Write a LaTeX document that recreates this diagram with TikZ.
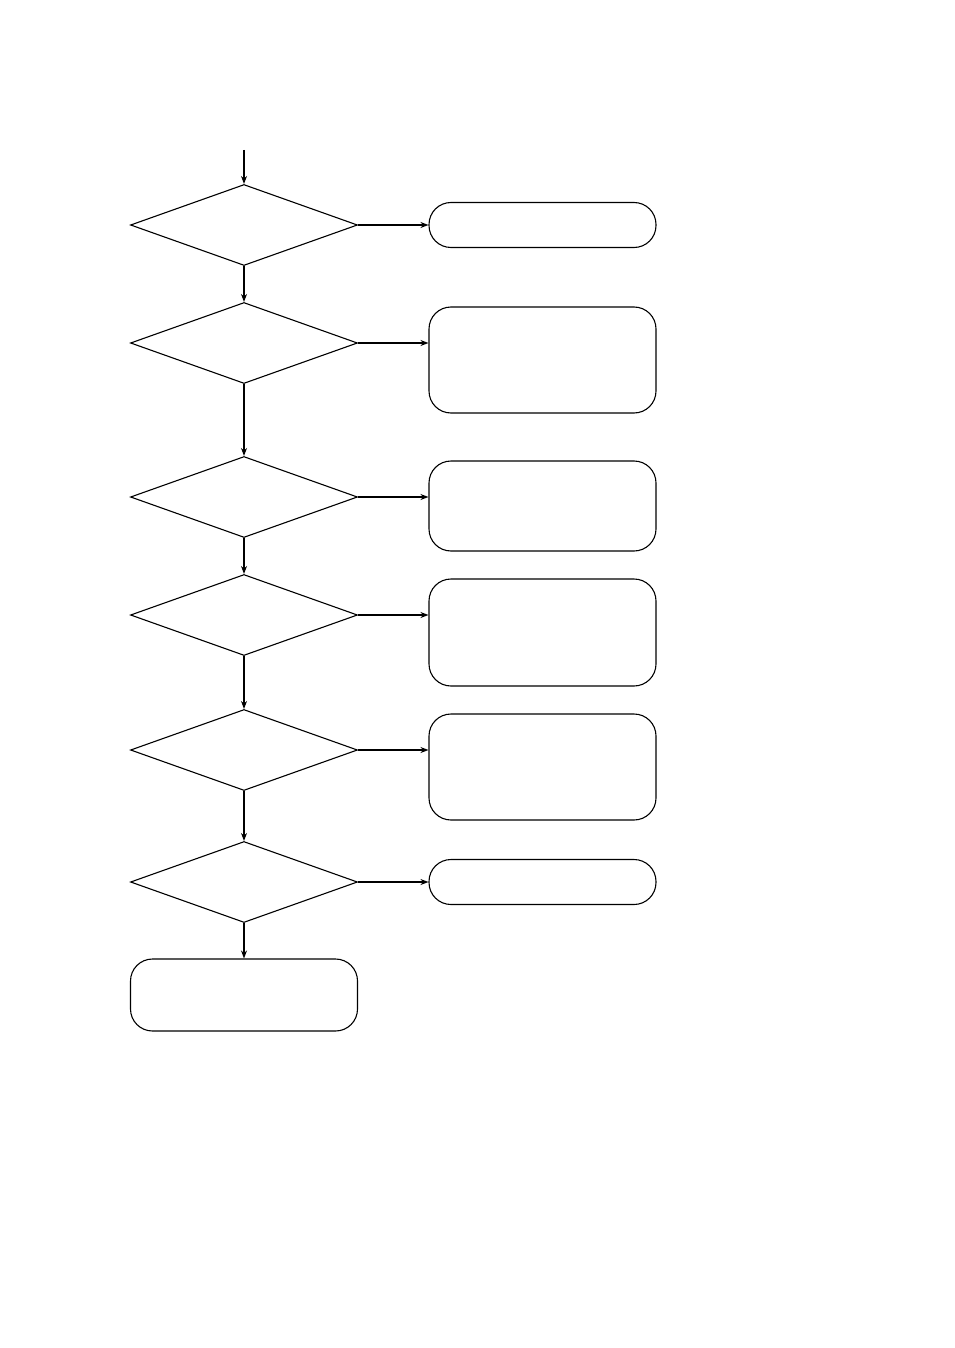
\documentclass[tikz,border=0pt]{standalone}
\usetikzlibrary{shapes.geometric,arrows.meta}
\begin{document}
\begin{tikzpicture}[x=1pt,y=-1pt,line width=1.1pt,
  dec/.style={draw,diamond,minimum width=227pt,minimum height=81pt,inner sep=0pt},
  rbox/.style={draw,rounded corners=22pt,minimum width=227pt,inner sep=0pt},
  arr/.style={-{Stealth[length=8pt,width=6pt]}}]
\useasboundingbox (0,0) rectangle (954,1348);
\coordinate (start) at (244,150);
\node[dec] (d1) at (244,225) {};
\node[dec] (d2) at (244,343) {};
\node[dec] (d3) at (244,497) {};
\node[dec] (d4) at (244,615) {};
\node[dec] (d5) at (244,750) {};
\node[dec] (d6) at (244,882) {};
\node[rbox,minimum height=45pt] (b1) at (542.5,225) {};
\node[rbox,minimum height=106pt] (b2) at (542.5,360) {};
\node[rbox,minimum height=90pt] (b3) at (542.5,506) {};
\node[rbox,minimum height=107pt] (b4) at (542.5,632.5) {};
\node[rbox,minimum height=106pt] (b5) at (542.5,767) {};
\node[rbox,minimum height=45pt] (b6) at (542.5,882) {};
\node[rbox,minimum height=72pt] (end) at (244,995) {};
\draw[arr] (start) -- (d1.north);
\draw[arr] (d1.south) -- (d2.north);
\draw[arr] (d2.south) -- (d3.north);
\draw[arr] (d3.south) -- (d4.north);
\draw[arr] (d4.south) -- (d5.north);
\draw[arr] (d5.south) -- (d6.north);
\draw[arr] (d6.south) -- (end.north);
\draw[arr] (d1.east) -- (b1.west |- d1.east);
\draw[arr] (d2.east) -- (b2.west |- d2.east);
\draw[arr] (d3.east) -- (b3.west |- d3.east);
\draw[arr] (d4.east) -- (b4.west |- d4.east);
\draw[arr] (d5.east) -- (b5.west |- d5.east);
\draw[arr] (d6.east) -- (b6.west |- d6.east);
\end{tikzpicture}
\end{document}
